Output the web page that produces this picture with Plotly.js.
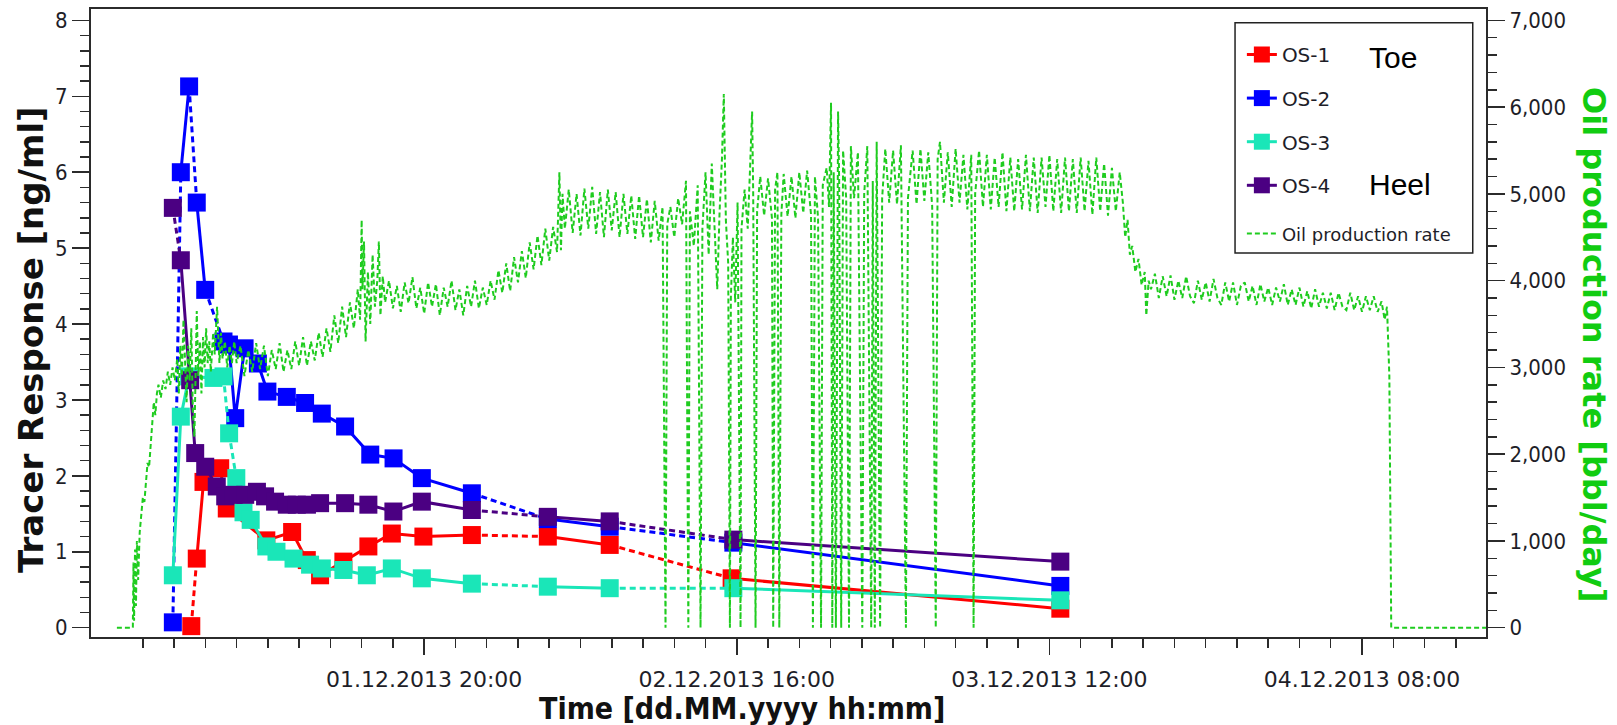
<!DOCTYPE html>
<html><head><meta charset="utf-8">
<script src="https://cdn.plot.ly/plotly-3.0.1.min.js"></script>
<style>html,body{margin:0;padding:0;background:#fff;} #chart{width:1617px;height:725px;}</style>
</head><body><div id="chart"></div>
<script>
// Hours are counted from 01.12.2013 00:00
const os1Hours = [5.1,5.45,5.88,6.95,7.37,9.9,11.55,12.49,13.34,14.83,16.43,17.93,19.95,23.05,27.91,31.87,39.67,60.7];
const os1Values = [0.02,0.91,1.92,2.10,1.57,1.15,1.26,0.89,0.69,0.87,1.07,1.24,1.20,1.22,1.20,1.09,0.65,0.25];
const os2Hours = [3.92,4.43,4.96,5.45,5.99,7.16,7.51,7.91,8.51,9.36,9.97,11.21,12.38,13.45,14.94,16.55,18.04,19.85,23.05,27.91,31.87,39.78,60.7];
const os2Values = [0.07,6.0,7.13,5.6,4.45,3.77,3.73,2.76,3.68,3.48,3.11,3.04,2.96,2.82,2.65,2.28,2.23,1.97,1.77,1.43,1.33,1.12,0.55];
const os3Hours = [3.92,4.43,4.96,6.52,7.16,7.52,7.98,8.44,8.9,9.9,10.55,11.64,12.7,13.45,14.83,16.33,17.93,19.85,23.05,27.91,31.87,39.78,60.7];
const os3Values = [0.69,2.78,3.31,3.29,3.31,2.56,1.97,1.52,1.42,1.07,1.0,0.91,0.83,0.78,0.76,0.69,0.78,0.65,0.58,0.54,0.52,0.52,0.36];
const os4Hours = [3.92,4.43,5.03,5.35,5.99,6.73,7.27,7.8,8.55,9.3,9.82,10.46,11.21,11.85,12.5,13.34,14.94,16.43,18.03,19.85,23.05,27.91,31.87,39.78,60.7];
const os4Values = [5.53,4.84,3.26,2.30,2.12,1.86,1.73,1.75,1.75,1.79,1.73,1.66,1.62,1.62,1.62,1.64,1.64,1.62,1.53,1.66,1.55,1.46,1.40,1.16,0.87];
// segments (index i -> i+1) drawn dashed in the reference
const os1DashedSegments = [0,13,15];
const os2DashedSegments = [0,2,4,18,20];
const os3DashedSegments = [4,5,18,20];
const os4DashedSegments = [0,20,22];
const seriesNames = ['OS-1','OS-2','OS-3','OS-4'];
const majorTickTimes = ['2013-12-01 20:00:00','2013-12-02 16:00:00','2013-12-03 12:00:00','2013-12-04 08:00:00'];

// Oil production rate samples: [hour, bbl/day]
const oilSamples = [
[0.34,0],[1.0,0],[1.36,0],[1.40,750],[1.44,80],[1.50,900],[1.56,250],[1.62,1000],[1.70,550],[1.80,1100],[1.90,1300],[2.00,1500],[2.10,1450],[2.20,1700],[2.30,1900],[2.40,1850],[2.50,2100],[2.60,2400],[2.70,2600],[2.80,2450],[2.90,2700],[3.00,2800],[3.15,2650],[3.30,2850],[3.45,2750],[3.60,2950],[3.75,2800],[3.90,3000],[4.05,2850],[4.20,3100],
[4.30,2700],[4.40,3250],[4.50,2900],[4.60,3550],[4.70,3000],[4.80,2600],[4.90,3250],[5.00,2850],[5.10,3450],[5.20,2500],[5.30,2200],[5.40,3100],[5.45,3650],[5.55,2900],[5.65,3300],[5.75,2700],[5.85,3350],[5.95,3000],[6.05,3450],[6.15,3050],[6.25,3300],[6.35,2950],[6.50,3400],[6.60,3150],[6.75,3700],[6.90,3050],[7.00,3400],[7.10,3100],[7.25,3300],[7.40,3000],[7.55,3250],[7.70,3050],[7.85,3300],[8.00,3050],
[8.25,3250],[8.50,2900],[8.75,3200],[9.00,2950],[9.25,3280],[9.50,2980],[9.75,3250],[10.00,2900],[10.25,3200],[10.50,2980],[10.75,3280],[11.00,2950],[11.25,3200],[11.50,2980],[11.75,3300],[12.00,3020],[12.25,3350],[12.50,3020],[12.75,3300],[13.00,3080],[13.25,3400],[13.50,3120],[13.75,3450],[14.00,3180],[14.25,3600],[14.50,3280],[14.75,3700],[15.00,3350],[15.25,3750],[15.50,3450],[15.75,3900],[15.90,3550],
[16.00,4700],[16.05,3900],[16.15,4450],[16.25,3300],[16.40,4100],[16.55,3500],[16.70,4300],[16.85,3700],[17.00,4000],[17.10,4450],[17.20,3600],[17.35,4050],[17.50,3750],
[17.75,4000],[18.00,3680],[18.25,3940],[18.50,3640],[18.75,3980],[19.00,3740],[19.25,4040],[19.50,3680],[19.75,3920],[20.00,3620],[20.25,3980],[20.50,3700],[20.75,3960],[21.00,3600],[21.25,3920],[21.50,3700],[21.75,4000],[22.00,3660],[22.25,3900],[22.50,3600],[22.75,3940],[23.00,3700],[23.25,4000],[23.50,3680],[23.75,3920],[24.00,3720],[24.25,4000],
[24.50,3780],[24.75,4120],[25.00,3860],[25.25,4200],[25.50,3880],[25.75,4270],[26.00,3980],[26.25,4340],[26.50,4030],[26.75,4440],[27.00,4130],[27.25,4520],[27.50,4180],[27.75,4600],[28.00,4230],[28.25,4620],[28.50,4330],
[28.65,5250],[28.75,4350],[28.85,5000],[29.00,4600],
[29.25,5050],[29.50,4550],[29.75,5000],[30.00,4520],[30.25,5060],[30.50,4600],[30.75,5080],[31.00,4540],[31.25,5020],[31.50,4500],[31.75,5050],[32.00,4580],[32.25,5020],[32.50,4500],[32.75,5000],[33.00,4540],[33.25,4980],[33.50,4480],[33.75,4980],[34.00,4500],[34.25,4940],[34.50,4440],[34.75,4920],[35.00,4460],[35.25,4850],[35.44,0],[35.55,4650],
[35.75,4850],[36.00,4500],[36.25,4950],[36.50,4650],[36.75,5150],[36.90,0],[37.00,4800],[37.25,4400],[37.50,5100],[37.68,0],[37.80,4600],[38.00,5250],[38.20,4300],[38.40,5350],[38.60,4500],[38.75,3900],[38.90,4800],[39.05,5400],[39.17,6150],[39.30,4700],[39.45,4200],[39.56,0],[39.62,3800],[39.75,4500],[39.90,3750],[40.05,4900],[40.24,0],[40.30,4600],[40.50,5050],[40.70,4600],[40.85,5300],[40.98,5950],[41.05,5000],[41.20,0],[41.30,4800],
[41.50,5200],[41.75,4750],[42.00,5180],[42.25,4720],[42.33,0],[42.45,5050],[42.60,5250],[42.72,0],[42.85,4760],[43.00,5230],[43.25,4740],[43.50,5200],[43.75,4720],[44.00,5250],[44.25,4780],[44.50,5270],[44.75,4760],[44.87,0],[45.00,5200],[45.20,4720],[45.39,0],[45.50,5100],[45.75,5300],[45.90,4850],[46.03,6050],[46.11,0],[46.20,5250],[46.34,0],[46.48,5950],[46.55,5150],[46.68,0],
[46.80,5500],[47.00,4950],[47.18,0],[47.30,5550],[47.50,4950],[47.75,5480],[48.03,0],[48.15,5000],[48.35,5550],[48.60,0],[48.70,5150],[48.83,0],[48.95,5600],[49.17,0],[49.30,4950],[49.50,5520],[49.75,4900],[50.00,5500],[50.25,4880],[50.50,5560],[50.82,0],[50.95,4950],[51.25,5500],[51.50,4880],[51.75,5520],[52.00,4920],[52.25,5480],[52.50,4860],[52.73,0],[52.85,5400],[53.00,5600],[53.25,4900],[53.50,5480],[53.75,4850],[54.00,5520],[54.25,4900],[54.50,5450],[54.75,4820],[55.00,5450],[55.11,0],[55.15,0],[55.25,5000],[55.50,5500],[55.75,4850],[56.00,5450],[56.25,4820],[56.50,5420],[56.75,4850],[57.00,5480],[57.25,4800],[57.50,5420],[57.75,4800],[58.00,5400],[58.25,4820],[58.50,5450],[58.75,4800],[59.00,5420],[59.25,4780],[59.50,5420],[59.75,4850],[60.00,5450],[60.25,4800],[60.50,5400],[60.75,4780],[61.00,5420],[61.25,4800],[61.50,5400],[61.75,4780],[62.00,5420],[62.25,4800],[62.50,5380],[62.75,4760],[63.00,5420],[63.25,4800],[63.50,5350],[63.75,4750],[64.00,5300],[64.25,4800],[64.50,5250],
[64.70,4900],[64.85,4500],[65.00,4700],[65.15,4300],[65.30,4400],[65.50,4100],[65.70,4250],[65.90,3950],[66.10,4100],[66.20,3600],[66.35,4000],
[66.50,3900],[66.75,4080],[67.00,3800],[67.25,4050],[67.50,3820],[67.75,4060],[68.00,3780],[68.25,4000],[68.50,3800],[68.75,4050],[69.00,3820],[69.25,3740],[69.50,4000],[69.75,3780],[70.00,3980],[70.25,3760],[70.50,4020],[70.75,3800],[71.00,3720],[71.25,3980],[71.50,3760],[71.75,3980],[72.00,3720],[72.25,3940],[72.50,3980],[72.75,3760],[73.00,3940],[73.25,3720],[73.50,3960],[73.75,3760],[74.00,3920],[74.25,3720],[74.50,3920],[74.75,3760],[75.00,3960],[75.25,3720],[75.50,3900],[75.75,3720],[76.00,3920],[76.25,3700],[76.50,3880],[76.75,3680],[77.00,3900],[77.25,3700],[77.50,3860],[77.75,3680],[78.00,3860],[78.25,3660],[78.50,3860],[78.75,3700],[79.00,3660],[79.25,3860],[79.50,3660],[79.75,3820],[80.00,3640],[80.25,3820],[80.50,3660],[80.75,3820],[81.00,3640],[81.25,3760],[81.45,3550],[81.60,3700],[81.75,2900],[81.87,0],[88.20,0]
];

const BASE = Date.UTC(2013, 11, 1, 0, 0, 0);
function hourToDate(h) {
  const d = new Date(BASE + Math.round(h * 3600000));
  const p = n => String(n).padStart(2, '0');
  return d.getUTCFullYear() + '-' + p(d.getUTCMonth() + 1) + '-' + p(d.getUTCDate()) + ' ' +
    p(d.getUTCHours()) + ':' + p(d.getUTCMinutes()) + ':' + p(d.getUTCSeconds());
}
// minor ticks every 2 hours from 01.12 02:00 to 04.12 14:00
const minorTickTimes = [];
for (let h = 2; h <= 86; h += 2) minorTickTimes.push(hourToDate(h));

const colors = ['#ff0000', '#0000ff', '#1ae6b8', '#4b0082'];
const hoursList = [os1Hours, os2Hours, os3Hours, os4Hours];
const valuesList = [os1Values, os2Values, os3Values, os4Values];
const dashedList = [os1DashedSegments, os2DashedSegments, os3DashedSegments, os4DashedSegments];

const traces = [];
seriesNames.forEach((name, k) => {
  const xs = hoursList[k].map(hourToDate);
  const ys = valuesList[k];
  const segs = dashedList[k];
  const sx = [], sy = [], dx = [], dy = [];
  for (let i = 0; i < xs.length; i++) {
    sx.push(xs[i]); sy.push(ys[i]);
    if (i < xs.length - 1 && segs.includes(i)) {
      sx.push(xs[i]); sy.push(null);
      dx.push(xs[i], xs[i + 1], xs[i + 1]); dy.push(ys[i], ys[i + 1], null);
    }
  }
  traces.push({type: 'scatter', mode: 'lines', x: dx, y: dy, showlegend: false, hoverinfo: 'skip',
    connectgaps: false, line: {color: colors[k], width: 3, dash: '6px,4px'}});
  traces.push({type: 'scatter', mode: 'lines+markers', name: name, legendgroup: name, x: sx, y: sy,
    connectgaps: false, line: {color: colors[k], width: 3},
    marker: {symbol: 'square', size: 18, color: colors[k], line: {width: 0}}});
});
traces.push({type: 'scatter', mode: 'lines', name: 'Oil production rate', legend: 'legend2', yaxis: 'y2',
  x: oilSamples.map(s => hourToDate(s[0])), y: oilSamples.map(s => s[1]),
  line: {color: '#1fcc1f', width: 2, dash: '5px,3px'}});

const yTickFont = {family: "'DejaVu Sans Condensed', 'DejaVu Sans', sans-serif", size: 22, color: '#1e1e28'};
const xTickFont = {family: "'DejaVu Sans', sans-serif", size: 22, color: '#1e1e28'};
const axisColor = '#2b2b2b';
const layout = {
  width: 1617, height: 725,
  margin: {l: 91, r: 131, t: 9, b: 88, pad: 0},
  paper_bgcolor: '#ffffff', plot_bgcolor: '#ffffff',
  showlegend: true,
  xaxis: {
    type: 'date', range: ['2013-11-30 22:41:00', '2013-12-04 15:56:00'],
    tickmode: 'array', tickvals: majorTickTimes, tickformat: '%d.%m.%Y %H:%M',
    ticks: 'outside', ticklen: 16, tickwidth: 1.5, tickcolor: axisColor,
    minor: {tickmode: 'array', tickvals: minorTickTimes, ticks: 'outside', ticklen: 9, tickwidth: 1.5, tickcolor: axisColor, showgrid: false},
    showline: true, linecolor: axisColor, linewidth: 2, mirror: true,
    showgrid: false, zeroline: false, tickfont: xTickFont, ticklabelstandoff: 6
  },
  yaxis: {
    range: [-0.123, 8.15], tick0: 0, dtick: 1,
    ticks: 'outside', ticklen: 17, tickwidth: 1.5, tickcolor: axisColor,
    minor: {dtick: 0.2, ticks: 'outside', ticklen: 9, tickwidth: 1.5, tickcolor: axisColor, showgrid: false},
    showline: true, linecolor: axisColor, linewidth: 2,
    showgrid: false, zeroline: false, tickfont: yTickFont
  },
  yaxis2: {
    overlaying: 'y', side: 'right',
    range: [-107.6, 7131.25], tick0: 0, dtick: 1000, tickformat: ',.0f',
    ticks: 'outside', ticklen: 17, tickwidth: 1.5, tickcolor: axisColor,
    minor: {dtick: 200, ticks: 'outside', ticklen: 9, tickwidth: 1.5, tickcolor: axisColor, showgrid: false},
    showline: true, linecolor: axisColor, linewidth: 2,
    showgrid: false, zeroline: false, tickfont: yTickFont
  },
  legend: {
    x: 0.825, y: 0.9586, xanchor: 'left', yanchor: 'top',
    bgcolor: 'rgba(0,0,0,0)', borderwidth: 0, tracegroupgap: 14.6,
    font: {family: "'DejaVu Sans', sans-serif", size: 20, color: '#1e1e28'}
  },
  legend2: {
    x: 0.825, y: 0.6713, xanchor: 'left', yanchor: 'top',
    bgcolor: 'rgba(0,0,0,0)', borderwidth: 0,
    font: {family: "'DejaVu Sans', sans-serif", size: 18, color: '#1e1e28'}
  },
  shapes: [{type: 'rect', xref: 'paper', yref: 'paper', x0: 0.8201, x1: 0.9905, y0: 0.6115, y1: 0.9782,
    line: {color: '#222222', width: 1.5}, fillcolor: '#ffffff', layer: 'above'}],
  annotations: [
    {text: 'Time [dd.MM.yyyy hh:mm]', xref: 'paper', yref: 'paper', x: 0.4667, y: -0.1146,
      xanchor: 'center', yanchor: 'middle', showarrow: false,
      font: {family: "'DejaVu Sans Condensed', 'DejaVu Sans', sans-serif", size: 30, weight: 'bold', color: '#111111'}},
    {text: 'Tracer Response [ng/ml]', xref: 'paper', yref: 'paper', x: -0.043, y: 0.473, textangle: -90,
      xanchor: 'center', yanchor: 'middle', showarrow: false,
      font: {family: "'DejaVu Sans', sans-serif", size: 34, weight: 'bold', color: '#111111'}},
    {text: 'Oil production rate [bbl/day]', xref: 'paper', yref: 'paper', x: 1.0774, y: 0.465, textangle: 90,
      xanchor: 'center', yanchor: 'middle', showarrow: false,
      font: {family: "'DejaVu Sans', sans-serif", size: 32, weight: 'bold', color: '#11cc11'}},
    {text: 'Toe', xref: 'paper', yref: 'paper', x: 0.9145, y: 0.9228, xanchor: 'left', yanchor: 'middle',
      showarrow: false, font: {family: "'Liberation Sans', Arial, sans-serif", size: 30, color: '#000000'}},
    {text: 'Heel', xref: 'paper', yref: 'paper', x: 0.9145, y: 0.7213, xanchor: 'left', yanchor: 'middle',
      showarrow: false, font: {family: "'Liberation Sans', Arial, sans-serif", size: 30, color: '#000000'}}
  ]
};
Plotly.newPlot('chart', traces, layout, {displayModeBar: false, staticPlot: true});
</script></body></html>
